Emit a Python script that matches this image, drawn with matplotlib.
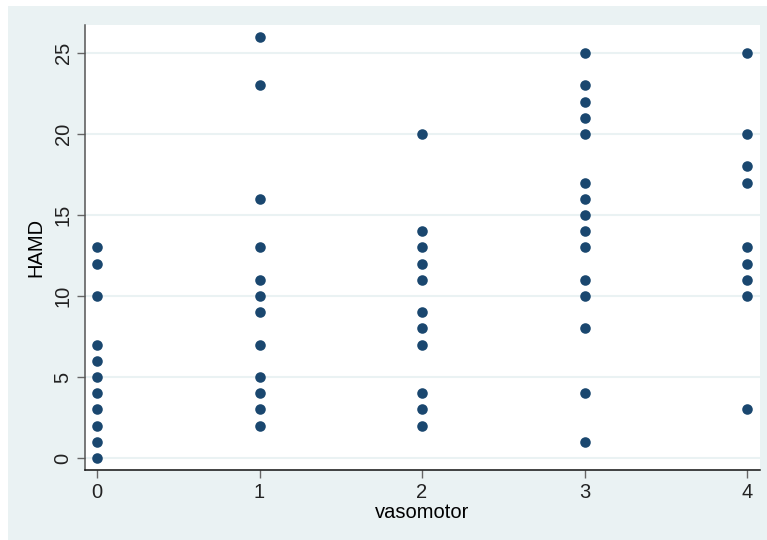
import matplotlib
import matplotlib.pyplot as plt
from matplotlib.patches import Rectangle

matplotlib.use("Agg")

# vasomotor score -> HAMD values
hamd_0 = [0, 1, 2, 3, 4, 5, 6, 7, 10, 12, 13]
hamd_1 = [2, 3, 4, 5, 7, 9, 10, 11, 13, 16, 23, 26]
hamd_2 = [2, 3, 4, 7, 8, 9, 11, 12, 13, 14, 20]
hamd_3 = [1, 4, 8, 10, 11, 13, 14, 15, 16, 17, 20, 21, 22, 23, 25]
hamd_4 = [3, 10, 11, 12, 13, 17, 18, 20, 25]
groups = [hamd_0, hamd_1, hamd_2, hamd_3, hamd_4]

x_ticks = [0, 1, 2, 3, 4]
y_ticks = [0, 5, 10, 15, 20, 25]

BG = "#EAF2F3"
DOT = "#1A476F"

plt.rcParams["font.family"] = ["Liberation Sans", "DejaVu Sans"]

W, H = 767, 540
fig = plt.figure(figsize=(W / 100, H / 100), dpi=100, facecolor="white")
fig.patches.append(
    Rectangle((8 / W, 0), 1 - 8 / W, (H - 6) / H, transform=fig.transFigure,
              facecolor=BG, edgecolor="none", zorder=-10)
)

ax = fig.add_axes([85 / W, 70 / H, (760 - 85) / W, (470 - 25) / H])
ax.set_facecolor("white")

xs, ys = [], []
for v, vals in zip(x_ticks, groups):
    xs += [v] * len(vals)
    ys += vals
ax.plot(xs, ys, "o", color=DOT, markersize=7.6, markeredgewidth=0, zorder=3)

ax.set_xlim(-0.074, 4.08)
ax.set_ylim(-0.74, 26.73)
ax.set_xticks(x_ticks)
ax.set_yticks(y_ticks)
ax.set_yticklabels([str(t) for t in y_ticks], rotation=90, va="center")
ax.tick_params(axis="both", labelsize=14.5, labelcolor="#222222", length=6,
               width=1, direction="out", color="#666666")
ax.tick_params(axis="x", pad=3)
ax.tick_params(axis="y", pad=3)

ax.grid(axis="y", color=BG, linewidth=1.5, zorder=0)
ax.grid(axis="x", visible=False)

for s in ["top", "right"]:
    ax.spines[s].set_visible(False)
ax.spines["bottom"].set_color("#111111")
ax.spines["left"].set_color("#555555")
ax.spines["bottom"].set_linewidth(1.1)
ax.spines["left"].set_linewidth(1.1)

ax.set_xlabel("vasomotor", fontsize=14.5, labelpad=1)
ax.set_ylabel("HAMD", fontsize=14.5, labelpad=6)

fig.savefig("out.png", dpi=100, facecolor=fig.get_facecolor())
